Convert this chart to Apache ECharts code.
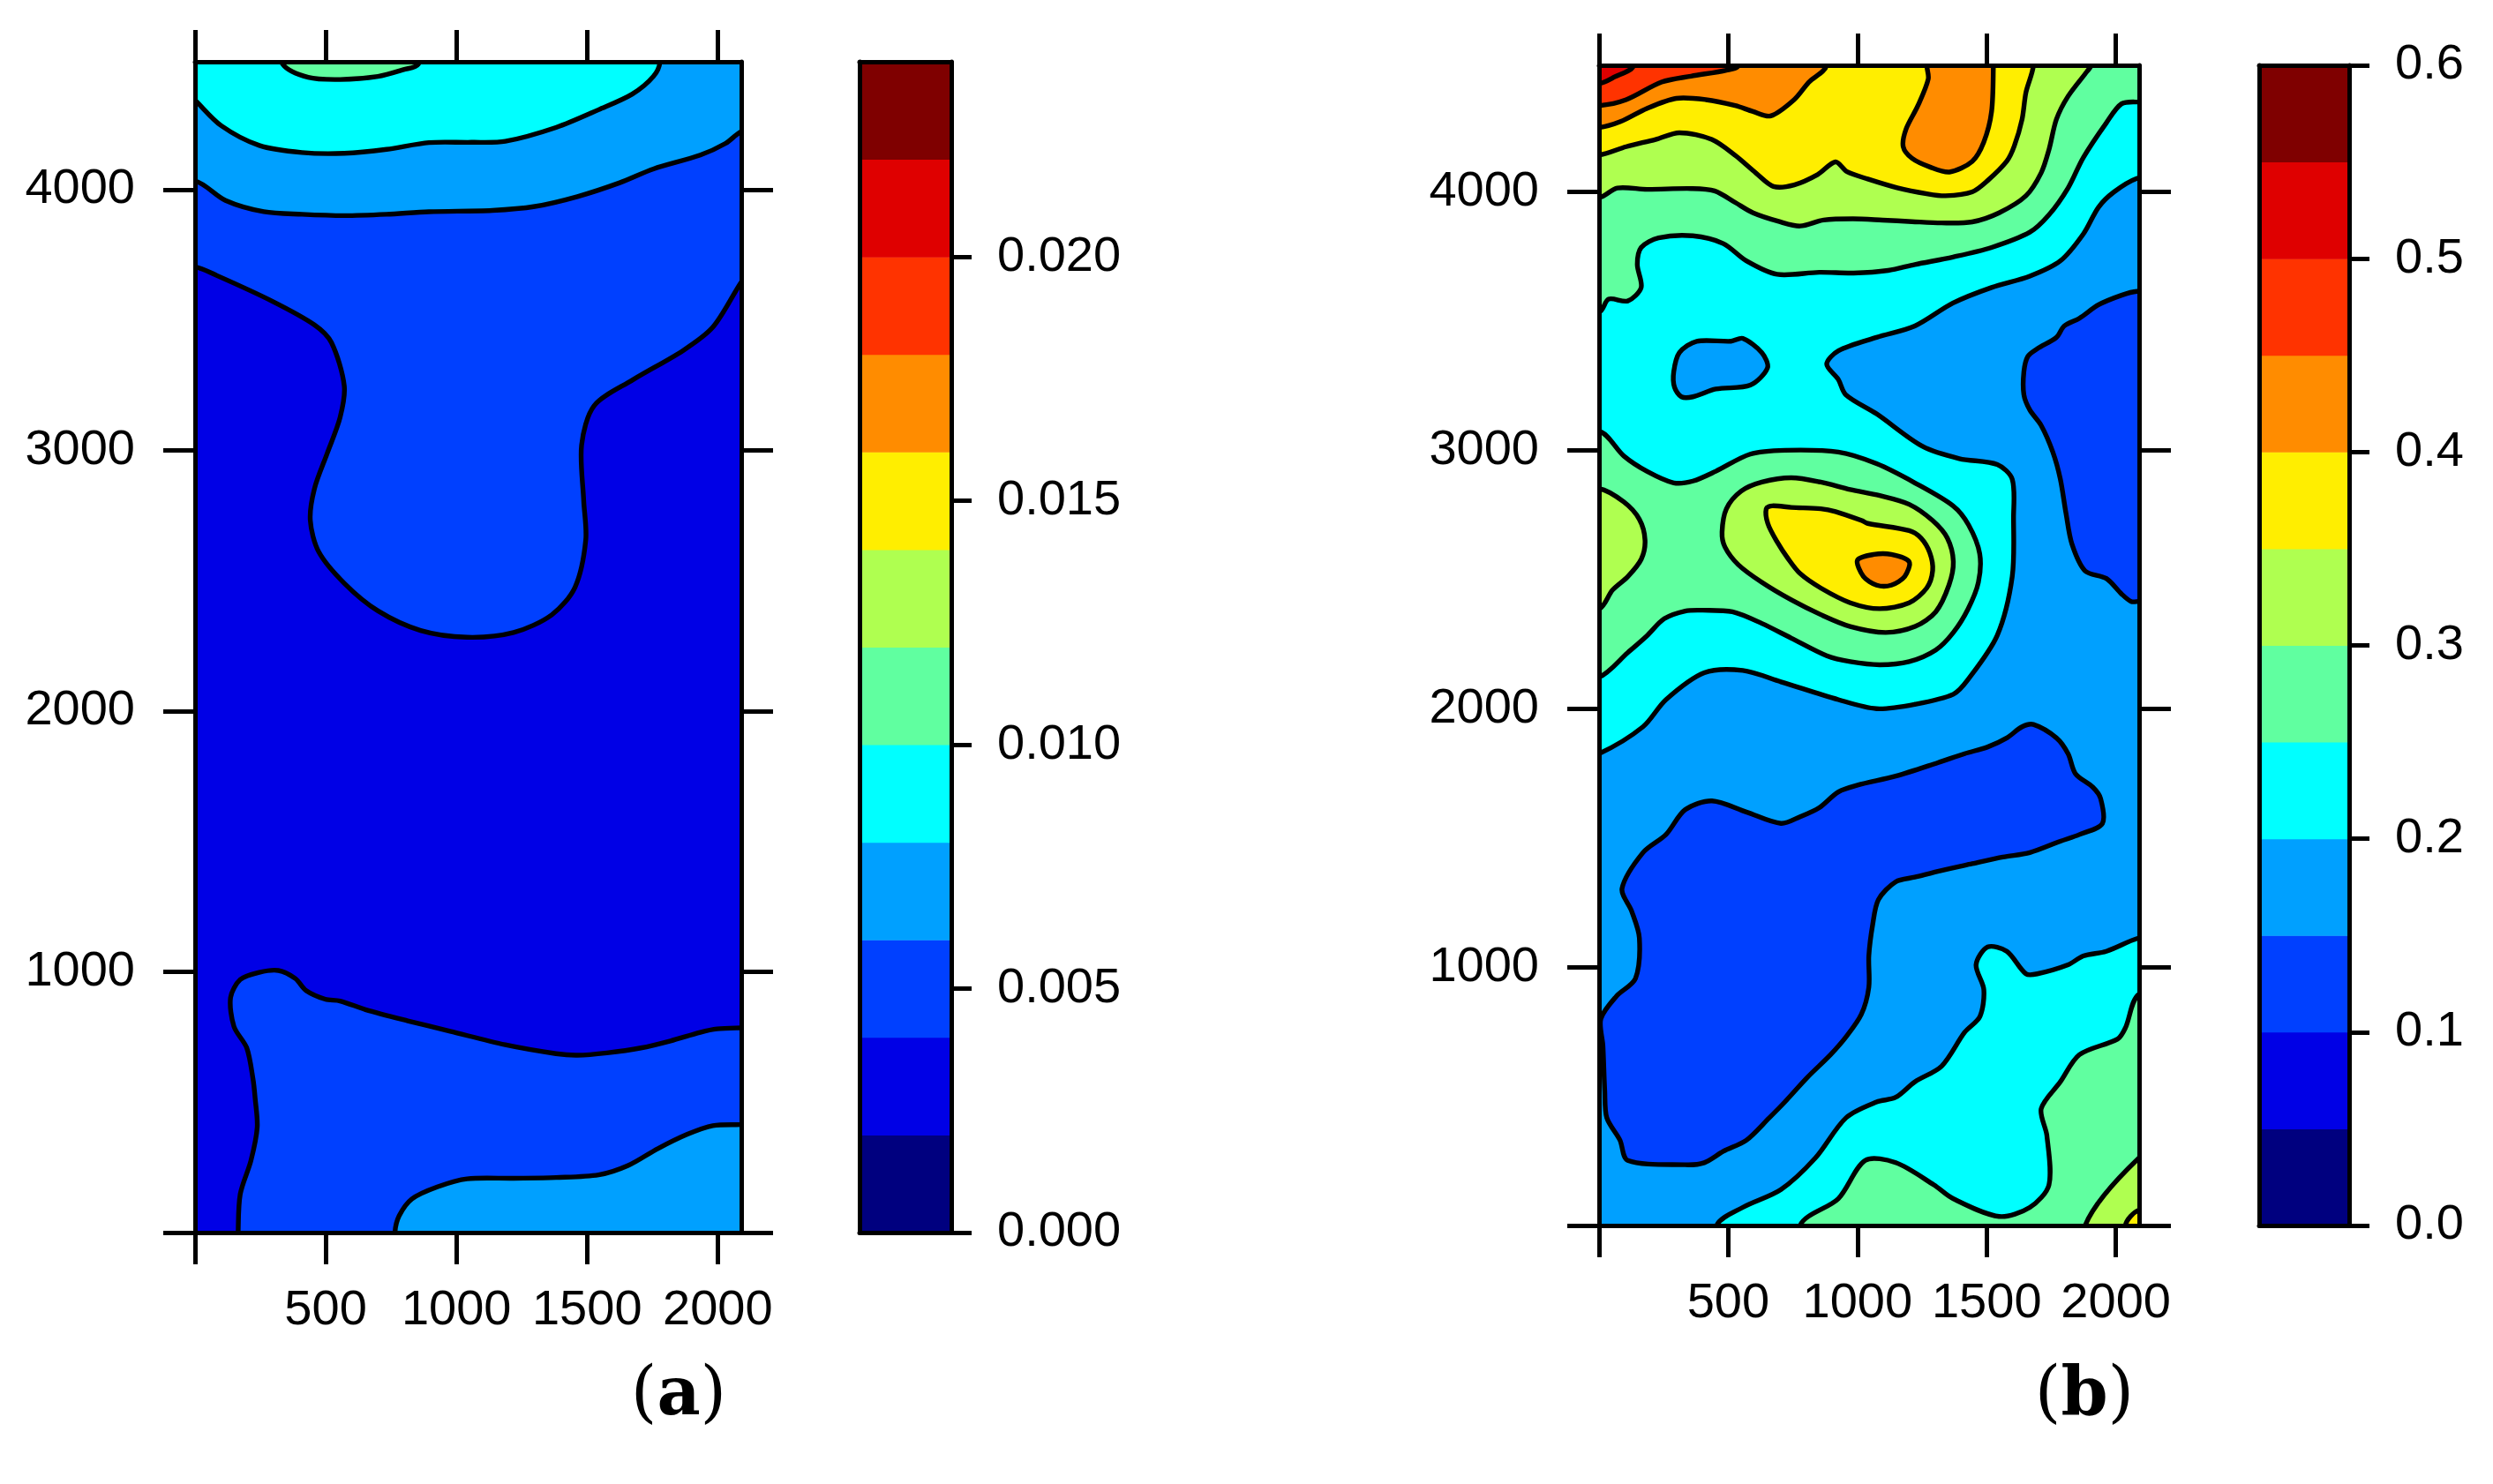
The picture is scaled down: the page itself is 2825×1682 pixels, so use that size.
<!DOCTYPE html>
<html>
<head>
<meta charset="utf-8">
<script src="https://cdn.jsdelivr.net/npm/echarts@6/dist/echarts.min.js"></script>
<style>
  html, body { margin: 0; padding: 0; background: #fff; }
  #main { width: 2825px; height: 1682px; }
</style>
</head>
<body>
<div id="main"></div>
<script>
// axis ticks and labels
var xTicks = [0, 500, 1000, 1500, 2000];
var xLabels = [500, 1000, 1500, 2000];
var yTicks = [0, 1000, 2000, 3000, 4000];
var yLabels = [1000, 2000, 3000, 4000];
var xMax = 2090;
var yMax = 4490;

// colour key levels
var levelsA = [0, 0.002, 0.004, 0.006, 0.008, 0.010, 0.012, 0.014, 0.016, 0.018, 0.020, 0.022, 0.024];
var keyTicksA = [0, 0.005, 0.010, 0.015, 0.020];
var levelsB = [0, 0.05, 0.10, 0.15, 0.20, 0.25, 0.30, 0.35, 0.40, 0.45, 0.50, 0.55, 0.60];
var keyTicksB = [0, 0.1, 0.2, 0.3, 0.4, 0.5, 0.6];

var bandColors = ['#00007F', '#0000E6', '#0040FF', '#00A0FF', '#00FFFF', '#60FFA0',
                  '#AFFF50', '#FFEE00', '#FF8C00', '#FF3300', '#DF0000', '#7F0000'];

// ---- panel (a) contour regions (x, y in data units) ----
var aBase = [[-300, -300], [2400, -300], [2400, 4800], [-300, 4800]];
var aTopBlue = [[-300, 3720], [0, 3703], [84, 3670], [295, 3572], [457, 3481], [522, 3413], [571, 3247], [555, 3126],
  [506, 2989], [457, 2853], [441, 2732], [473, 2611], [571, 2490], [700, 2384], [863, 2309], [1041, 2283], [1219, 2301],
  [1365, 2369], [1454, 2475], [1495, 2657], [1487, 2808], [1479, 3020], [1527, 3171], [1673, 3269], [1868, 3383],
  [1982, 3473], [2090, 3645], [2200, 3800], [2400, 4800], [-300, 4800]];
var aTopMid = [[-300, 4060], [0, 4033], [117, 3958], [263, 3915], [409, 3905], [571, 3900], [733, 3905], [895, 3915],
  [1138, 3920], [1300, 3935], [1463, 3973], [1625, 4026], [1754, 4079], [1933, 4132], [2030, 4177], [2090, 4222],
  [2300, 4300], [2400, 4800], [-300, 4800]];
var aTopCyan = [[-100, 4440], [0, 4343], [100, 4245], [246, 4169], [409, 4142], [571, 4139], [733, 4154], [895, 4180],
  [1057, 4181], [1187, 4185], [1381, 4238], [1544, 4306], [1673, 4366], [1754, 4434], [1779, 4490], [1790, 4800],
  [-300, 4800]];
var aTopMint = [[310, 4600], [336, 4480], [433, 4430], [555, 4422], [700, 4434], [798, 4460], [854, 4480], [880, 4600]];
var aBotBlue = [[160, -300], [165, 0], [173, 147], [214, 276], [238, 404], [230, 515], [222, 588], [198, 708], [149, 790],
  [136, 901], [173, 970], [246, 998], [319, 1005], [384, 974], [425, 928], [498, 895], [555, 888], [652, 855], [814, 812],
  [976, 772], [1187, 720], [1381, 686], [1463, 680], [1576, 689], [1706, 708], [1819, 735], [1933, 768], [1998, 781],
  [2090, 785], [2300, 790], [2400, -300]];
var aBotMid = [[760, -300], [765, 0], [781, 64], [830, 129], [927, 175], [1041, 206], [1219, 208], [1381, 211],
  [1544, 221], [1657, 257], [1771, 322], [1884, 377], [1981, 410], [2090, 414], [2300, 418], [2400, -300]];

// ---- panel (b) contour regions ----
var bBase = [[-300, -300], [2400, -300], [2400, 4800], [-300, 4800]];
var bTopCyan = [[2300, 4110], [2081, 4052], [1993, 4000], [1933, 3941], [1874, 3837], [1785, 3733], [1667, 3674],
  [1519, 3630], [1370, 3570], [1222, 3481], [1074, 3437], [926, 3385], [881, 3333], [926, 3274], [955, 3215],
  [1074, 3141], [1252, 3015], [1394, 2968], [1541, 2945], [1599, 2888], [1604, 2740], [1599, 2512], [1541, 2284],
  [1428, 2113], [1371, 2056], [1222, 2017], [1074, 2000], [926, 2035], [704, 2104], [556, 2148], [407, 2139],
  [259, 2035], [170, 1930], [0, 1826], [-200, 1760], [-300, 4800], [2400, 4800]];
var bHole = [[289, 3304], [311, 3378], [378, 3422], [511, 3422], [556, 3433], [630, 3378], [652, 3319], [585, 3252],
  [452, 3237], [363, 3207], [319, 3207], [292, 3244]];
var bTopMint = [[-300, 3520], [0, 3535], [37, 3585], [111, 3578], [163, 3630], [148, 3719], [163, 3785], [230, 3822],
  [363, 3830], [481, 3800], [570, 3733], [689, 3681], [852, 3689], [985, 3686], [1119, 3696], [1222, 3719],
  [1370, 3748], [1519, 3785], [1667, 3844], [1741, 3911], [1815, 4015], [1874, 4133], [1963, 4267], [2022, 4341],
  [2090, 4348], [2300, 4350], [2400, 4800], [-300, 4800]];
var bTopYG = [[-300, 3960], [0, 3978], [71, 4015], [185, 4010], [356, 4013], [447, 4004], [527, 3959], [596, 3919],
  [698, 3885], [778, 3868], [869, 3891], [983, 3896], [1097, 3891], [1211, 3885], [1325, 3880], [1444, 3884],
  [1548, 3919], [1652, 3985], [1711, 4074], [1741, 4163], [1770, 4281], [1815, 4370], [1889, 4467], [1904, 4490],
  [1920, 4800], [-300, 4800]];
var bTopYellow = [[-300, 4130], [0, 4143], [105, 4175], [219, 4203], [311, 4229], [436, 4203], [527, 4141], [607, 4073],
  [675, 4021], [755, 4027], [846, 4067], [915, 4116], [960, 4078], [1040, 4050], [1154, 4016], [1268, 3993],
  [1341, 3985], [1444, 4000], [1504, 4044], [1578, 4119], [1607, 4178], [1637, 4281], [1652, 4385], [1681, 4490],
  [1690, 4800], [-300, 4800]];
var bTopOrange = [[-300, 4230], [0, 4249], [83, 4272], [185, 4323], [299, 4362], [413, 4357], [527, 4334], [596, 4311],
  [664, 4294], [755, 4357], [812, 4425], [881, 4490], [900, 4800], [-300, 4800]];
var bOrangeBlob = [[1262, 4800], [1268, 4490], [1274, 4437], [1234, 4334], [1188, 4243], [1177, 4175], [1211, 4130],
  [1281, 4096], [1356, 4077], [1444, 4118], [1489, 4193], [1519, 4311], [1526, 4490], [1530, 4800]];
var bTopRedOrange = [[-300, 4320], [0, 4334], [105, 4357], [242, 4425], [356, 4448], [493, 4471], [539, 4490],
  [560, 4800], [-300, 4800]];
var bTopRed = [[-300, 4400], [0, 4419], [60, 4445], [134, 4490], [150, 4800], [-300, 4800]];
var bMidMint = [[-300, 3080], [0, 3074], [96, 2978], [185, 2919], [289, 2874], [363, 2881], [452, 2919], [585, 2985],
  [719, 3000], [926, 2993], [1074, 2948], [1222, 2874], [1370, 2785], [1430, 2711], [1473, 2600], [1468, 2489],
  [1428, 2386], [1371, 2295], [1303, 2227], [1200, 2182], [1086, 2170], [972, 2182], [881, 2205], [744, 2273],
  [630, 2330], [516, 2375], [402, 2381], [333, 2378], [252, 2348], [185, 2282], [111, 2217], [0, 2122], [-300, 2050]];
var bLeftYG = [[-300, 2870], [0, 2852], [96, 2800], [156, 2733], [178, 2652], [163, 2578], [111, 2511], [52, 2459],
  [0, 2385], [-300, 2300]];
var bPeakYG = [[476, 2683], [493, 2774], [550, 2842], [630, 2877], [744, 2894], [858, 2877], [972, 2848], [1086, 2825],
  [1200, 2791], [1291, 2728], [1348, 2660], [1371, 2569], [1354, 2478], [1303, 2375], [1223, 2318], [1109, 2295],
  [972, 2318], [858, 2364], [744, 2421], [630, 2489], [539, 2557], [487, 2626]];
var bPeakYellow = [[647, 2774], [670, 2785], [744, 2779], [858, 2774], [915, 2763], [1017, 2728], [1040, 2717],
  [1200, 2689], [1246, 2660], [1280, 2603], [1291, 2535], [1268, 2467], [1200, 2410], [1086, 2387], [972, 2410],
  [858, 2467], [778, 2523], [732, 2580], [687, 2649], [653, 2717]];
var bPeakOrange = [[1000, 2575], [1063, 2597], [1131, 2597], [1200, 2569], [1183, 2512], [1131, 2478], [1074, 2478],
  [1023, 2512]];
var bLowLeft = [[7, 800], [15, 696], [22, 522], [30, 417], [81, 330], [111, 252], [333, 235], [407, 243], [481, 287],
  [570, 330], [659, 417], [719, 478], [807, 574], [896, 661], [956, 730], [1015, 817], [1044, 922], [1044, 1043],
  [1059, 1165], [1081, 1261], [1148, 1330], [1222, 1348], [1326, 1374], [1444, 1400], [1563, 1426], [1667, 1443],
  [1785, 1487], [1859, 1513], [1948, 1556], [1941, 1652], [1911, 1696], [1844, 1748], [1815, 1826], [1770, 1887],
  [1681, 1939], [1637, 1930], [1578, 1887], [1504, 1852], [1415, 1826], [1311, 1791], [1148, 1739], [1000, 1704],
  [926, 1678], [852, 1617], [778, 1582], [704, 1556], [570, 1600], [437, 1643], [333, 1609], [259, 1513],
  [170, 1443], [89, 1304], [126, 1217], [156, 1113], [141, 956], [67, 887]];
var bLowRight = [[2300, 3620], [2081, 3615], [2022, 3600], [1933, 3563], [1859, 3511], [1800, 3481], [1770, 3437],
  [1696, 3393], [1659, 3363], [1644, 3304], [1644, 3215], [1667, 3156], [1711, 3096], [1756, 2993], [1785, 2889],
  [1807, 2756], [1830, 2637], [1881, 2533], [1963, 2504], [2022, 2444], [2059, 2415], [2090, 2415], [2300, 2410]];
var bBotCyan = [[400, -300], [455, 0], [556, 70], [704, 139], [837, 261], [956, 417], [1074, 478], [1148, 496],
  [1222, 556], [1326, 617], [1415, 748], [1474, 809], [1489, 913], [1459, 1009], [1504, 1078], [1578, 1061],
  [1652, 974], [1696, 974], [1815, 1009], [1874, 1043], [1963, 1061], [2090, 1113], [2300, 1150], [2400, -300]];
var bBotMint = [[770, -300], [778, 0], [926, 104], [1030, 252], [1148, 243], [1296, 157], [1370, 104], [1548, 35],
  [1667, 70], [1741, 157], [1733, 348], [1711, 452], [1785, 556], [1859, 661], [2007, 722], [2037, 765], [2090, 896],
  [2300, 950], [2400, -300]];
var bBotYG = [[1860, -300], [1881, 0], [2090, 262], [2300, 400], [2400, -300]];
var bBotYellow = [[2030, -300], [2037, 0], [2090, 60], [2300, 100], [2400, -300]];

var regionsA = [
  { band: 1, pts: aBase, line: false },
  { band: 2, pts: aTopBlue, line: true },
  { band: 3, pts: aTopMid, line: true },
  { band: 4, pts: aTopCyan, line: true },
  { band: 5, pts: aTopMint, line: true },
  { band: 2, pts: aBotBlue, line: true },
  { band: 3, pts: aBotMid, line: true }
];
var regionsB = [
  { band: 3, pts: bBase, line: false },
  { band: 4, pts: bTopCyan, line: true },
  { band: 3, pts: bHole, line: true },
  { band: 5, pts: bTopMint, line: true },
  { band: 6, pts: bTopYG, line: true },
  { band: 7, pts: bTopYellow, line: true },
  { band: 8, pts: bTopOrange, line: true },
  { band: 8, pts: bOrangeBlob, line: true },
  { band: 9, pts: bTopRedOrange, line: true },
  { band: 10, pts: bTopRed, line: true },
  { band: 5, pts: bMidMint, line: true },
  { band: 6, pts: bLeftYG, line: true },
  { band: 6, pts: bPeakYG, line: true },
  { band: 7, pts: bPeakYellow, line: true },
  { band: 8, pts: bPeakOrange, line: true },
  { band: 2, pts: bLowLeft, line: true },
  { band: 2, pts: bLowRight, line: true },
  { band: 4, pts: bBotCyan, line: true },
  { band: 5, pts: bBotMint, line: true },
  { band: 6, pts: bBotYG, line: true },
  { band: 7, pts: bBotYellow, line: true }
];

var font = 'Liberation Sans, Arial, sans-serif';
var boxLine = { show: true, onZero: false, lineStyle: { color: '#000', width: 5 } };
var plain = function (v) { return String(v); };

function plotX(grid, pos, labels) {
  return {
    type: 'value', gridIndex: grid, position: pos, min: 0, max: xMax, z: 10,
    axisLine: boxLine, splitLine: { show: false },
    axisTick: { show: true, inside: false, customValues: xTicks, length: 36, lineStyle: { width: 5, color: '#000' } },
    axisLabel: { show: labels, customValues: xLabels, formatter: plain, margin: 61, fontSize: 56, color: '#000', fontFamily: font }
  };
}
function plotY(grid, pos, labels) {
  return {
    type: 'value', gridIndex: grid, position: pos, min: 0, max: yMax, z: 10,
    axisLine: boxLine, splitLine: { show: false },
    axisTick: { show: true, inside: false, customValues: yTicks, length: 36, lineStyle: { width: 5, color: '#000' } },
    axisLabel: { show: labels, customValues: yLabels, formatter: plain, margin: 68, fontSize: 56, color: '#000', fontFamily: font }
  };
}
function keyX(grid, pos) {
  return {
    type: 'value', gridIndex: grid, position: pos, min: 0, max: 1, z: 10,
    axisLine: boxLine, splitLine: { show: false }, axisTick: { show: false }, axisLabel: { show: false }
  };
}
function keyY(grid, pos, levels, ticks, digits) {
  var right = pos === 'right';
  return {
    type: 'value', gridIndex: grid, position: pos, min: levels[0], max: levels[levels.length - 1], z: 10,
    axisLine: boxLine, splitLine: { show: false },
    axisTick: { show: right, inside: false, customValues: ticks, length: 23, lineStyle: { width: 5, color: '#000' } },
    axisLabel: {
      show: right, customValues: ticks, margin: 52, fontSize: 56, color: '#000', fontFamily: font,
      formatter: function (v) { return v.toFixed(digits); }
    }
  };
}

function contourSeries(xi, yi, regions) {
  return {
    type: 'custom', xAxisIndex: xi, yAxisIndex: yi, clip: true, silent: true, animation: false,
    data: regions.map(function (r, i) { return [i, i]; }),
    renderItem: function (params, api) {
      var r = regions[params.dataIndex];
      var pts = r.pts.map(function (p) { return api.coord(p); });
      return {
        type: 'polygon',
        shape: { points: pts, smooth: 0.3 },
        style: { fill: bandColors[r.band], stroke: r.line ? '#000' : null, lineWidth: r.line ? 5.4 : 0 }
      };
    }
  };
}
function keySeries(xi, yi, levels) {
  return {
    type: 'custom', xAxisIndex: xi, yAxisIndex: yi, clip: true, silent: true, animation: false,
    data: levels.slice(0, -1).map(function (v, i) { return [0.5, v]; }),
    renderItem: function (params, api) {
      var i = params.dataIndex;
      var lo = api.coord([0, levels[i]]);
      var hi = api.coord([1, levels[i + 1]]);
      return {
        type: 'rect',
        shape: { x: lo[0], y: hi[1], width: hi[0] - lo[0], height: lo[1] - hi[1] + 0.5 },
        style: { fill: bandColors[i] }
      };
    }
  };
}

function panelTag(x, letter) {
  return {
    type: 'text', x: x, y: 1583,
    style: {
      text: '{p|(}{b|' + letter + '}{p|)}',
      align: 'center', verticalAlign: 'middle',
      rich: {
        p: { fontFamily: 'DejaVu Serif', fontSize: 76, fill: '#000' },
        b: { fontFamily: 'DejaVu Serif', fontSize: 76, fontWeight: 'bold', fill: '#000' }
      }
    }
  };
}

function grid(left, top, width, height) {
  return { left: left, top: top, width: width, height: height, containLabel: false, outerBoundsMode: 'none' };
}

var chart = echarts.init(document.getElementById('main'));
chart.setOption({
  backgroundColor: '#fff',
  animation: false,
  grid: [
    grid(221, 70, 619, 1327),
    grid(974, 70, 104, 1327),
    grid(1812, 74, 612, 1315),
    grid(2560, 74, 102, 1315)
  ],
  xAxis: [
    plotX(0, 'bottom', true), plotX(0, 'top', false),
    keyX(1, 'bottom'), keyX(1, 'top'),
    plotX(2, 'bottom', true), plotX(2, 'top', false),
    keyX(3, 'bottom'), keyX(3, 'top')
  ],
  yAxis: [
    plotY(0, 'left', true), plotY(0, 'right', false),
    keyY(1, 'left', levelsA, keyTicksA, 3), keyY(1, 'right', levelsA, keyTicksA, 3),
    plotY(2, 'left', true), plotY(2, 'right', false),
    keyY(3, 'left', levelsB, keyTicksB, 1), keyY(3, 'right', levelsB, keyTicksB, 1)
  ],
  series: [
    contourSeries(0, 0, regionsA),
    keySeries(2, 3, levelsA),
    contourSeries(4, 4, regionsB),
    keySeries(6, 7, levelsB)
  ],
  graphic: [panelTag(769, 'a'), panelTag(2362, 'b')]
});
</script>
</body>
</html>
